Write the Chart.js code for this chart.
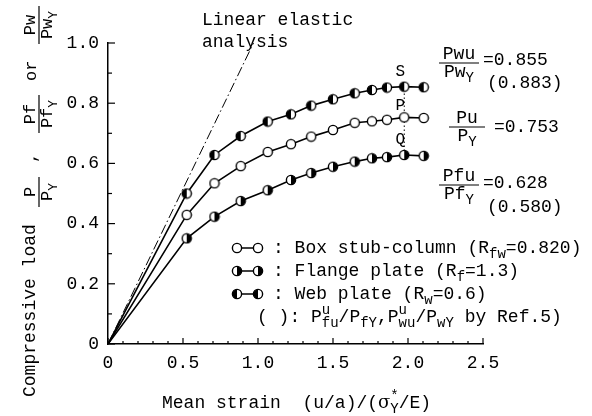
<!DOCTYPE html>
<html>
<head>
<meta charset="utf-8">
<script src="https://cdn.jsdelivr.net/npm/chart.js@4.4.0/dist/chart.umd.min.js"></script>
<style>
  html, body { margin: 0; padding: 0; background: #fff; }
  #chart { display: block; }
</style>
</head>
<body>
<canvas id="chart" width="592" height="416"></canvas>
<script>
// mean strain (u/a)/(sigma*Y/E), shared by the three test curves
const strain = [0, 0.525, 0.71, 0.885, 1.065, 1.22, 1.355, 1.5, 1.645, 1.76, 1.86, 1.975, 2.105];
// Pw/PwY
const webLoad = [0, 0.50, 0.628, 0.691, 0.739, 0.763, 0.792, 0.813, 0.833, 0.844, 0.852, 0.855, 0.853];
// P/PY
const boxLoad = [0, 0.429, 0.534, 0.591, 0.638, 0.664, 0.689, 0.711, 0.735, 0.740, 0.745, 0.753, 0.751];
// Pf/PfY
const flangeLoad = [0, 0.351, 0.423, 0.475, 0.511, 0.545, 0.568, 0.589, 0.606, 0.617, 0.621, 0.628, 0.625];
// linear elastic analysis line
const elasticX = [0, 0.97];
const elasticY = [0, 1.0];
// ultimate point index (S, P, Q)
const peakIdx = 11;

const xTicks = [0, 0.5, 1.0, 1.5, 2.0, 2.5];
const yTicks = [0, 0.2, 0.4, 0.6, 0.8, 1.0];

const MONO = "'Liberation Mono', 'DejaVu Sans Mono', monospace";
const INK = "#000";

const toPoints = (xs, ys) => xs.map((x, i) => ({ x: x, y: ys[i] }));

// half-filled circle marker, side = "left" or "right"
const halfMarker = (side) => {
  const c = document.createElement("canvas");
  c.width = 12;
  c.height = 12;
  const g = c.getContext("2d");
  const r = 4.6;
  g.fillStyle = "#fff";
  g.beginPath();
  g.arc(6, 6, r, 0, Math.PI * 2);
  g.fill();
  g.fillStyle = INK;
  g.beginPath();
  if (side === "left") {
    g.arc(6, 6, r, Math.PI / 2, Math.PI * 1.5);
  } else {
    g.arc(6, 6, r, -Math.PI / 2, Math.PI / 2);
  }
  g.closePath();
  g.fill();
  g.strokeStyle = INK;
  g.lineWidth = 1.4;
  g.beginPath();
  g.arc(6, 6, r, 0, Math.PI * 2);
  g.stroke();
  return c;
};
const openMarker = (() => {
  const c = document.createElement("canvas");
  c.width = 12;
  c.height = 12;
  const g = c.getContext("2d");
  g.fillStyle = "#fff";
  g.strokeStyle = INK;
  g.lineWidth = 1.4;
  g.beginPath();
  g.arc(6, 6, 4.6, 0, Math.PI * 2);
  g.fill();
  g.stroke();
  return c;
})();
const webMarker = halfMarker("left");
const flangeMarker = halfMarker("right");

const noFirst = (ctx) => (ctx.dataIndex === 0 ? 0 : 4.6);

// draws text runs with sub/superscripts, returns end x
const drawRuns = (ctx, x, y, runs, size) => {
  let cx = x;
  const small = Math.round(size * 0.78) + "px " + MONO;
  runs.forEach((r) => {
    const kind = r[1] || "n";
    if (kind === "n") {
      ctx.font = size + "px " + MONO;
      ctx.fillText(r[0], cx, y);
      cx += ctx.measureText(r[0]).width;
    } else if (kind === "sub") {
      ctx.font = small;
      ctx.fillText(r[0], cx, y + size * 0.25);
      cx += ctx.measureText(r[0]).width;
    } else if (kind === "sup") {
      ctx.font = small;
      ctx.fillText(r[0], cx, y - size * 0.45);
      cx += ctx.measureText(r[0]).width;
    } else if (kind === "both") {
      // superscript r[0] stacked over subscript r[2]
      ctx.font = small;
      ctx.fillText(r[0], cx, y - size * 0.45);
      ctx.fillText(r[2], cx, y + size * 0.25);
      cx += Math.max(ctx.measureText(r[0]).width, ctx.measureText(r[2]).width);
    }
  });
  return cx;
};

const runsWidth = (ctx, runs, size) => {
  let w = 0;
  runs.forEach((r) => {
    const kind = r[1] || "n";
    ctx.font = (kind === "n" ? size : Math.round(size * 0.78)) + "px " + MONO;
    w += kind === "both"
      ? Math.max(ctx.measureText(r[0]).width, ctx.measureText(r[2]).width)
      : ctx.measureText(r[0]).width;
  });
  return w;
};

// fraction centred at cx, bar at barY
const drawFrac = (ctx, cx, barY, num, den, size, barW) => {
  const nw = runsWidth(ctx, num, size);
  const dw = runsWidth(ctx, den, size);
  const w = barW || Math.max(nw, dw) + 4;
  drawRuns(ctx, cx - nw / 2, barY - 4, num, size);
  drawRuns(ctx, cx - dw / 2, barY + size * 0.78, den, size);
  ctx.lineWidth = 1.2;
  ctx.beginPath();
  ctx.moveTo(cx - w / 2, barY);
  ctx.lineTo(cx + w / 2, barY);
  ctx.stroke();
};

const decorations = {
  id: "decorations",
  afterDraw(chart) {
    const ctx = chart.ctx;
    const xs = chart.scales.x;
    const ys = chart.scales.y;
    ctx.save();
    ctx.strokeStyle = INK;
    ctx.fillStyle = INK;

    // inward tick marks
    ctx.lineWidth = 1.2;
    for (let i = 0; i <= 25; i++) {
      const px = xs.getPixelForValue(i / 10);
      const len = i % 5 === 0 ? 6 : 3;
      ctx.beginPath();
      ctx.moveTo(px, ys.bottom);
      ctx.lineTo(px, ys.bottom - len);
      ctx.stroke();
    }
    for (let i = 0; i <= 10; i++) {
      const py = ys.getPixelForValue(i / 10);
      const len = i % 2 === 0 ? 7 : 4;
      ctx.beginPath();
      ctx.moveTo(xs.left, py);
      ctx.lineTo(xs.left + len, py);
      ctx.stroke();
    }

    ctx.textBaseline = "alphabetic";

    // S, P, Q labels on the ultimate points
    ctx.font = "16px " + MONO;
    ctx.textAlign = "center";
    const px = xs.getPixelForValue(strain[peakIdx]) - 4;
    ctx.fillText("S", px, ys.getPixelForValue(webLoad[peakIdx]) - 11);
    ctx.fillText("P", px, (ys.getPixelForValue(webLoad[peakIdx]) + ys.getPixelForValue(boxLoad[peakIdx])) / 2 + 8);
    ctx.fillText("Q", px, (ys.getPixelForValue(boxLoad[peakIdx]) + ys.getPixelForValue(flangeLoad[peakIdx])) / 2 + 8);
    ctx.textAlign = "left";

    // linear elastic label
    ctx.font = "18px " + MONO;
    ctx.fillText("Linear elastic", 202, 25);
    ctx.fillText("analysis", 202, 47);

    // ultimate strength ratios on the right
    drawFrac(ctx, 459, 63, [["Pwu"]], [["Pw"], ["Y", "sub"]], 18, 40);
    drawRuns(ctx, 483, 65, [["=" + webLoad[peakIdx].toFixed(3)]], 18);
    drawRuns(ctx, 487, 88, [["(0.883)"]], 18);
    drawFrac(ctx, 467, 127, [["Pu"]], [["P"], ["Y", "sub"]], 18, 36);
    drawRuns(ctx, 494, 132, [["=" + boxLoad[peakIdx].toFixed(3)]], 18);
    drawFrac(ctx, 459, 185, [["Pfu"]], [["Pf"], ["Y", "sub"]], 18, 40);
    drawRuns(ctx, 483, 188, [["=" + flangeLoad[peakIdx].toFixed(3)]], 18);
    drawRuns(ctx, 487, 212, [["(0.580)"]], 18);

    // legend
    const rows = [
      [openMarker, [["Box stub-column (R"], ["fw", "sub"], ["=0.820)"]], 248],
      [flangeMarker, [["Flange plate (R"], ["f", "sub"], ["=1.3)"]], 271],
      [webMarker, [["Web plate (R"], ["w", "sub"], ["=0.6)"]], 294],
    ];
    rows.forEach((r) => {
      const y = r[2];
      ctx.lineWidth = 1.5;
      ctx.beginPath();
      ctx.moveTo(237, y);
      ctx.lineTo(258, y);
      ctx.stroke();
      ctx.drawImage(r[0], 237 - 6, y - 6);
      ctx.drawImage(r[0], 258 - 6, y - 6);
      drawRuns(ctx, 273, y + 5, [[": "]].concat(r[1]), 18);
    });
    drawRuns(ctx, 257, 322, [["( ): P"], ["u", "both", "fu"], ["/P"], ["fY", "sub"], [",P"], ["u", "both", "wu"], ["/P"], ["wY", "sub"], [" by Ref.5)"]], 18);

    // x axis title
    let ex = drawRuns(ctx, 162, 408, [["Mean strain  (u/a)/("]], 18);
    ctx.font = "18px 'DejaVu Serif', serif";
    ctx.fillText("\u03c3", ex, 408);
    ex += ctx.measureText("\u03c3").width;
    drawRuns(ctx, ex, 408, [["*", "both", "Y"], ["/E)"]], 18);

    // y axis title, rotated to read bottom to top
    ctx.save();
    ctx.translate(0, 416);
    ctx.rotate(-Math.PI / 2);
    drawRuns(ctx, 19, 35, [["Compressive load"]], 18);
    drawFrac(ctx, 224, 39, [["P"]], [["P"], ["Y", "sub"]], 17, 30);
    drawRuns(ctx, 253, 36, [[","]], 17);
    drawFrac(ctx, 302, 39, [["Pf"]], [["Pf"], ["Y", "sub"]], 17, 38);
    drawRuns(ctx, 335, 36, [["or"]], 17);
    drawFrac(ctx, 391, 39, [["Pw"]], [["Pw"], ["Y", "sub"]], 17, 38);
    ctx.restore();

    ctx.restore();
  },
};

const lineSet = (label, ys, marker) => ({
  label: label,
  data: toPoints(strain, ys),
  showLine: true,
  borderColor: INK,
  borderWidth: 1.6,
  tension: 0,
  pointStyle: marker,
  pointRadius: noFirst,
  pointHoverRadius: noFirst,
});

new Chart(document.getElementById("chart"), {
  type: "scatter",
  data: {
    datasets: [
      lineSet("Web plate", webLoad, webMarker),
      lineSet("Box stub-column", boxLoad, openMarker),
      lineSet("Flange plate", flangeLoad, flangeMarker),
      {
        label: "S-Q",
        data: [
          { x: strain[peakIdx], y: flangeLoad[peakIdx] },
          { x: strain[peakIdx], y: webLoad[peakIdx] },
        ],
        showLine: true,
        borderColor: INK,
        borderWidth: 1,
        borderDash: [1.5, 2.5],
        pointRadius: 0,
      },
      {
        label: "Linear elastic analysis",
        data: toPoints(elasticX, elasticY),
        showLine: true,
        borderColor: INK,
        borderWidth: 1,
        borderDash: [10, 3, 1.5, 3],
        pointRadius: 0,
      },
    ],
  },
  options: {
    responsive: false,
    animation: false,
    layout: { padding: { left: 0, right: 109, top: 43, bottom: 0 } },
    plugins: { legend: { display: false }, tooltip: { enabled: false } },
    scales: {
      x: {
        type: "linear",
        min: 0,
        max: 2.5,
        afterFit: (s) => { s.height = 72; },
        afterBuildTicks: (s) => { s.ticks = xTicks.map((v) => ({ value: v })); },
        grid: { display: false, drawTicks: false },
        border: { display: true, color: INK, width: 1.5 },
        ticks: {
          padding: 8,
          color: INK,
          font: { family: MONO, size: 18 },
          maxRotation: 0,
          callback: (v) => (v === 0 ? "0" : v.toFixed(1)),
        },
      },
      y: {
        type: "linear",
        min: 0,
        max: 1.0,
        afterFit: (s) => { s.width = 108; },
        afterBuildTicks: (s) => { s.ticks = yTicks.map((v) => ({ value: v })); },
        grid: { display: false, drawTicks: false },
        border: { display: true, color: INK, width: 1.5 },
        ticks: {
          padding: 9,
          color: INK,
          font: { family: MONO, size: 18 },
          callback: (v) => (v === 0 ? "0" : v.toFixed(1)),
        },
      },
    },
  },
  plugins: [decorations],
});
</script>
</body>
</html>
